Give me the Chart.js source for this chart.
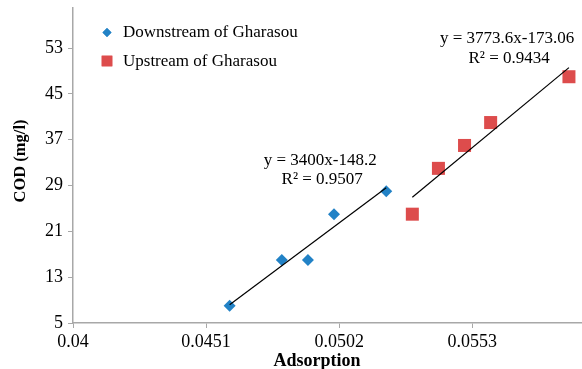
<!DOCTYPE html>
<html>
<head>
<meta charset="utf-8">
<script src="https://cdn.jsdelivr.net/npm/chart.js@4"></script>
<style>
  html, body { margin: 0; padding: 0; background: #fff; }
  #wrap { width: 582px; height: 369px; position: relative; }
</style>
</head>
<body>
<div id="wrap"><canvas id="codChart"></canvas></div>
<script>
// data
const seriesNames = ['Downstream of Gharasou', 'Upstream of Gharasou'];
const downX = [0.046, 0.048, 0.049, 0.050, 0.052];
const downY = [8, 16, 16, 24, 28];
const upX = [0.053, 0.054, 0.055, 0.056, 0.059];
const upY = [24, 32, 36, 40, 48];
const xTicks = [0.04, 0.0451, 0.0502, 0.0553];
const yTicks = [5, 13, 21, 29, 37, 45, 53];
const trendText = [
  ['y = 3400x-148.2', 'R\u00B2 = 0.9507'],
  ['y = 3773.6x-173.06', 'R\u00B2 = 0.9434']
];

const FONT = "'Liberation Serif', 'Times New Roman', serif";
const BLUE = '#2282C6';
const RED = '#DD4C4C';
const AXIS = '#A8A8A8';

function toPoints(xs, ys) {
  return xs.map((x, i) => ({ x: x, y: ys[i] }));
}

// least squares line over the range of the data (like Excel's linear trendline)
function trend(xs, ys) {
  const n = xs.length;
  const mx = xs.reduce((a, b) => a + b, 0) / n;
  const my = ys.reduce((a, b) => a + b, 0) / n;
  let sxy = 0, sxx = 0;
  xs.forEach((x, i) => { sxy += (x - mx) * (ys[i] - my); sxx += (x - mx) * (x - mx); });
  const m = sxy / sxx, b = my - m * mx;
  const lo = Math.min(...xs), hi = Math.max(...xs);
  return [{ x: lo, y: m * lo + b }, { x: hi, y: m * hi + b }];
}

// legend inside the plot, trendline equations, axis titles
const overlay = {
  id: 'overlay',
  afterDatasetsDraw(chart) {
    const ctx = chart.ctx;
    const xs = chart.scales.x, ys = chart.scales.y;
    ctx.save();
    ctx.fillStyle = '#000';
    ctx.font = '17px ' + FONT;
    ctx.textBaseline = 'middle';

    // legend
    const rows = [
      { style: 'rectRot', r: 4.5, color: BLUE, y: 32.5 },
      { style: 'rect', r: 7.5, color: RED, y: 61 }
    ];
    rows.forEach((row, i) => {
      ctx.fillStyle = row.color;
      Chart.helpers.drawPoint(ctx, { pointStyle: row.style, radius: row.r, borderWidth: 0 }, 107, row.y);
      ctx.fill();
      ctx.fillStyle = '#000';
      ctx.textAlign = 'left';
      ctx.fillText(seriesNames[i], 123, row.y + 0.5);
    });

    // equations, anchored in data space
    const anchors = [{ x: 0.04947, y: 33.4 }, { x: 0.05663, y: 54.6 }];
    ctx.textAlign = 'center';
    anchors.forEach((a, i) => {
      const px = xs.getPixelForValue(a.x);
      const py = ys.getPixelForValue(a.y);
      ctx.fillText(trendText[i][0], px, py);
      ctx.fillText(trendText[i][1], px + 2, py + 19.5);
    });

    // axis titles
    ctx.font = 'bold 18px ' + FONT;
    ctx.fillText('Adsorption', 317, 361);
    ctx.font = 'bold 16.5px ' + FONT;
    ctx.translate(21, 161);
    ctx.rotate(-Math.PI / 2);
    ctx.fillText('COD (mg/l)', 0, 0);
    ctx.restore();
  }
};

const ctx = document.getElementById('codChart').getContext('2d');
const codChart = new Chart(ctx, {
  type: 'scatter',
  data: {
    datasets: [
      {
        label: seriesNames[0],
        data: toPoints(downX, downY),
        pointStyle: 'rectRot',
        pointRadius: 6,
        backgroundColor: BLUE,
        borderWidth: 0,
        order: 2
      },
      {
        label: seriesNames[1],
        data: toPoints(upX, upY),
        pointStyle: 'rect',
        pointRadius: 9.2,
        backgroundColor: RED,
        borderWidth: 0,
        order: 2
      },
      {
        type: 'line',
        data: trend(downX, downY),
        borderColor: '#000',
        borderWidth: 1.2,
        pointRadius: 0,
        order: 1
      },
      {
        type: 'line',
        data: trend(upX, upY),
        borderColor: '#000',
        borderWidth: 1.2,
        pointRadius: 0,
        order: 1
      }
    ]
  },
  options: {
    responsive: true,
    maintainAspectRatio: false,
    animation: false,
    layout: { autoPadding: false, padding: { left: 0, top: 8, right: 0, bottom: 0 } },
    plugins: {
      legend: { display: false },
      tooltip: { enabled: false }
    },
    scales: {
      x: {
        type: 'linear',
        min: 0.04,
        max: 0.0595,
        afterBuildTicks: s => { s.ticks = xTicks.map(v => ({ value: v })); },
        afterFit: s => { s.height = 46; s.paddingLeft = 0; s.paddingRight = 0; },
        ticks: {
          font: { family: FONT, size: 18 },
          color: '#000',
          padding: 3,
          maxRotation: 0,
          callback: v => String(v)
        },
        grid: { drawOnChartArea: false, tickLength: 5, color: AXIS },
        border: { color: AXIS, width: 1.5 }
      },
      y: {
        min: 5,
        max: 60,
        afterBuildTicks: s => { s.ticks = yTicks.map(v => ({ value: v })); },
        afterFit: s => { s.width = 73; s.paddingTop = 0; s.paddingBottom = 0; },
        ticks: {
          font: { family: FONT, size: 18 },
          color: '#000',
          padding: 5,
          callback: v => String(v)
        },
        grid: { drawOnChartArea: false, tickLength: 5, color: AXIS },
        border: { color: AXIS, width: 1.5 }
      }
    }
  },
  plugins: [overlay]
});
</script>
</body>
</html>
